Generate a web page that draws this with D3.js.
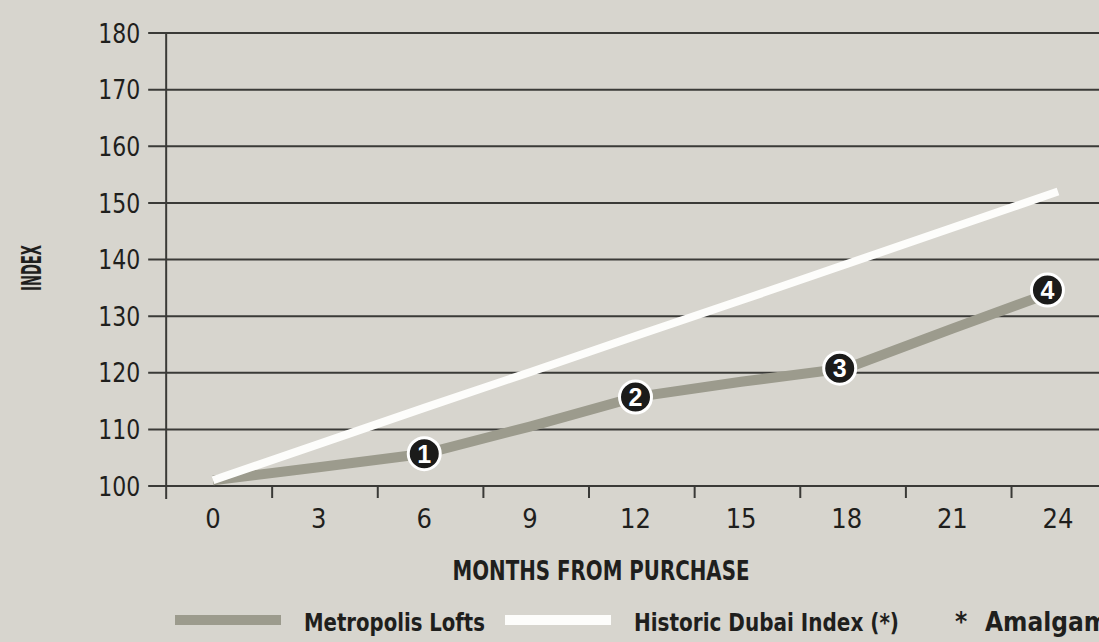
<!DOCTYPE html>
<html>
<head>
<meta charset="utf-8">
<script src="https://cdn.jsdelivr.net/npm/d3@7"></script>
<style>
body { margin: 0; background: #d7d5ce; overflow: hidden; }
svg { display: block; }
text { font-family: "DejaVu Sans Condensed", "Liberation Sans Narrow", sans-serif; fill: #1f1f1d; }
</style>
</head>
<body>
<svg id="chart" width="1099" height="642"></svg>
<script>
"use strict"

let months = [0, 3, 6, 9, 12, 15, 18, 21, 24]
let lofts = [101, 103.3, 105.7, 110.5, 115.7, 118.4, 120.8, 127.8, 134.6]
let dubai = [101, 107.4, 113.8, 120.1, 126.5, 132.8, 139.2, 145.6, 152]
let markers = [
    { month: 6, value: 105.7, label: "1" },
    { month: 12, value: 115.7, label: "2" },
    { month: 17.8, value: 120.8, label: "3" },
    { month: 23.7, value: 134.6, label: "4" }
]
let yTicks = [100, 110, 120, 130, 140, 150, 160, 170, 180]
let legendItems = [
    { name: "Metropolis Lofts", color: "#9c9b8d" },
    { name: "Historic Dubai Index (*)", color: "#fdfdfb" }
]
let footnote = ["*", "Amalgamated"]

let svg = d3.select("#chart")
let x = d3.scaleLinear().domain([0, 24]).range([213, 1058])
let y = d3.scaleLinear().domain([100, 180]).range([486, 33])
let axisX = x(-1.33)
let gridColor = "#3a3a37"

// horizontal grid lines with little ticks on the left
svg.append("g").selectAll("line")
    .data(yTicks)
    .enter().append("line")
    .attr("x1", axisX - 18).attr("x2", 1099)
    .attr("y1", d => y(d)).attr("y2", d => y(d))
    .attr("stroke", gridColor).attr("stroke-width", 2)

svg.append("g").selectAll("text")
    .data(yTicks)
    .enter().append("text")
    .attr("x", axisX - 26).attr("y", d => y(d))
    .attr("dy", "0.36em")
    .attr("text-anchor", "end")
    .attr("textLength", 42).attr("lengthAdjust", "spacingAndGlyphs")
    .style("font-size", "27px")
    .text(d => d)

// vertical axis
svg.append("line")
    .attr("x1", axisX).attr("x2", axisX)
    .attr("y1", y(180)).attr("y2", y(100) + 13)
    .attr("stroke", gridColor).attr("stroke-width", 2)

// x ticks sit between the month labels
svg.append("g").selectAll("line")
    .data(months.slice(0, -1))
    .enter().append("line")
    .attr("x1", d => x(d + 1.68)).attr("x2", d => x(d + 1.68))
    .attr("y1", y(100)).attr("y2", y(100) + 12)
    .attr("stroke", gridColor).attr("stroke-width", 2)

svg.append("g").selectAll("text")
    .data(months)
    .enter().append("text")
    .attr("x", d => x(d)).attr("y", 518)
    .attr("dy", "0.36em")
    .attr("text-anchor", "middle")
    .style("font-size", "27px")
    .text(d => d)

svg.append("text")
    .attr("x", 601).attr("y", 571)
    .attr("dy", "0.36em")
    .attr("text-anchor", "middle")
    .attr("textLength", 297).attr("lengthAdjust", "spacingAndGlyphs")
    .style("font-size", "26px").style("font-weight", "bold")
    .text("MONTHS FROM PURCHASE")

svg.append("text")
    .attr("transform", "translate(32,268) rotate(-90)")
    .attr("dy", "0.36em")
    .attr("text-anchor", "middle")
    .attr("textLength", 46).attr("lengthAdjust", "spacingAndGlyphs")
    .style("font-size", "26px").style("font-weight", "bold")
    .text("INDEX")

// series
let line = d3.line()
    .x((d, i) => x(months[i]))
    .y(d => y(d))

svg.append("path").datum(lofts)
    .attr("d", line)
    .attr("fill", "none")
    .attr("stroke", legendItems[0].color).attr("stroke-width", 10)

svg.append("path").datum(dubai)
    .attr("d", line)
    .attr("fill", "none")
    .attr("stroke", legendItems[1].color).attr("stroke-width", 8)

let mk = svg.append("g").selectAll("g")
    .data(markers)
    .enter().append("g")
    .attr("transform", d => "translate(" + x(d.month) + "," + y(d.value) + ")")

mk.append("circle")
    .attr("r", 16)
    .attr("fill", "#1b1b1a")
    .attr("stroke", "#ffffff").attr("stroke-width", 3)

mk.append("text")
    .attr("dy", "0.36em")
    .attr("text-anchor", "middle")
    .style("font-family", "'Liberation Sans', sans-serif")
    .style("font-size", "25px").style("font-weight", "bold")
    .style("fill", "#ffffff")
    .text(d => d.label)

// legend
let legend = svg.append("g")
let legendX = [175, 505]
let legendW = [181, 265]
legend.selectAll("rect")
    .data(legendItems)
    .enter().append("rect")
    .attr("x", (d, i) => legendX[i]).attr("y", 615)
    .attr("width", 106).attr("height", 10)
    .attr("fill", d => d.color)

legend.selectAll("text")
    .data(legendItems)
    .enter().append("text")
    .attr("x", (d, i) => legendX[i] + 129).attr("y", 622)
    .attr("dy", "0.36em")
    .attr("textLength", (d, i) => legendW[i]).attr("lengthAdjust", "spacingAndGlyphs")
    .style("font-size", "25px").style("font-weight", "bold")
    .text(d => d.name)

// footnote runs off the right edge, as in the original
let foot = svg.append("text")
    .attr("y", 622)
    .attr("dy", "0.36em")
    .style("font-size", "26px").style("font-weight", "bold")
foot.append("tspan").attr("x", 955).text(footnote[0])
foot.append("tspan").attr("x", 985).text(footnote[1])
</script>
</body>
</html>
